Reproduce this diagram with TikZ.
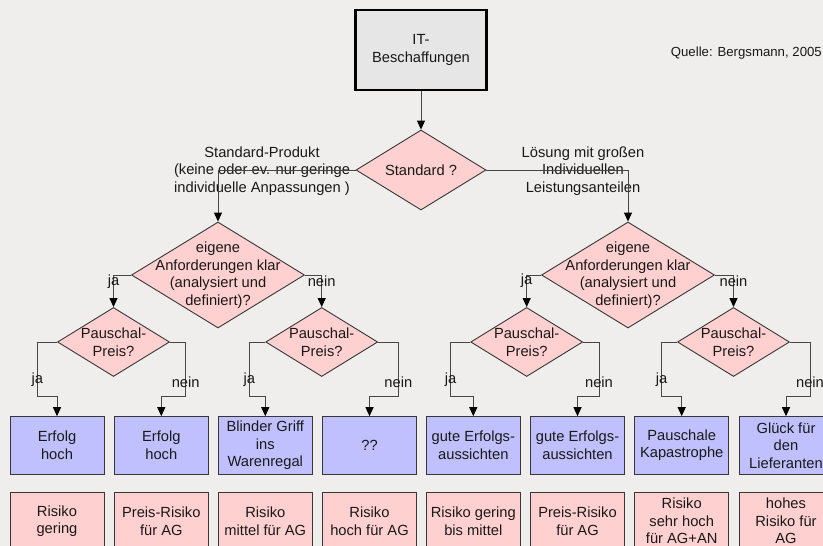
\documentclass[tikz,border=0pt]{standalone}
\usepackage{fontspec}
\setmainfont{Liberation Sans}
\usetikzlibrary{shapes.geometric,arrows.meta}
\definecolor{bg}{RGB}{239,238,236}
\definecolor{pinkf}{RGB}{255,208,208}
\definecolor{bluef}{RGB}{192,192,255}
\definecolor{grayf}{RGB}{230,230,230}
\definecolor{edge}{RGB}{55,55,55}
\definecolor{conn}{RGB}{70,70,70}
\definecolor{txt}{RGB}{25,25,25}
\tikzset{
  every node/.style={text=txt, font=\fontsize{14.7}{17.5}\selectfont, align=center},
  topbox/.style={draw=black, line width=2.2pt, fill=grayf, minimum width=131pt, minimum height=80pt, inner sep=0pt},
  dia/.style={diamond, draw=edge, line width=0.9pt, fill=pinkf, inner sep=0pt},
  bigdia/.style={dia, minimum width=173pt, minimum height=106pt},
  smalldia/.style={dia, minimum width=112pt, minimum height=69pt},
  stddia/.style={dia, minimum width=130pt, minimum height=80pt},
  leafbox/.style={draw=edge, line width=0.9pt, minimum width=94pt, minimum height=57.3pt, inner sep=0pt},
  resbox/.style={leafbox, fill=bluef},
  riskbox/.style={leafbox, fill=pinkf},
  connector/.style={draw=conn, line width=1pt, -{Triangle[length=9pt,width=8pt,color=black]}},
  plainline/.style={draw=conn, line width=1pt},
  lbl/.style={inner sep=0pt},
}
\begin{document}
\begin{tikzpicture}[x=1pt,y=-1pt]
\useasboundingbox[fill=bg] (0,0) rectangle (823,546);

\node[topbox] (top) at (421,50) {IT-\\Beschaffungen};
\node[stddia] (std) at (421,170) {};
\node[lbl] at (std.center) {Standard ?};

\node[lbl] (lstd) at (262,171) {Standard-Produkt\\(keine oder ev. nur geringe\\individuelle Anpassungen )};
\node[lbl] (lind) at (583,171) {Lösung mit großen\\Individuellen\\Leistungsanteilen};

\node[bigdia] (d1) at (218,275) {};
\node[lbl] at (d1.center) {eigene\\Anforderungen klar\\(analysiert und\\definiert)?};
\node[bigdia] (d2) at (628,275) {};
\node[lbl] at (d2.center) {eigene\\Anforderungen klar\\(analysiert und\\definiert)?};

\foreach \n/\x in {p1/113.5,p2/321.7,p3/526.7,p4/733.5}{
  \node[smalldia] (\n) at (\x,342) {};
  \node[lbl] at (\n.center) {Pauschal-\\Preis?};
}

% result boxes
\node[resbox] (b1) at (57,445.3) {Erfolg\\hoch};
\node[resbox] (b2) at (161.3,445.3) {Erfolg\\hoch};
\node[resbox] (b3) at (265.3,445.3) {Blinder Griff\\ins\\Warenregal};
\node[resbox] (b4) at (369.5,445.3) {??};
\node[resbox] (b5) at (473.3,445.3) {gute Erfolgs-\\aussichten};
\node[resbox] (b6) at (577.5,445.3) {gute Erfolgs-\\aussichten};
\node[resbox] (b7) at (681.7,445.3) {Pauschale\\Kapastrophe};
\node[resbox] (b8) at (786,445.3) {Glück für\\den\\Lieferanten};

% risk boxes
\node[riskbox] (r1) at (57,521) {Risiko\\gering};
\node[riskbox] (r2) at (161.3,521) {Preis-Risiko\\für AG};
\node[riskbox] (r3) at (265.3,521) {Risiko\\mittel für AG};
\node[riskbox] (r4) at (369.5,521) {Risiko\\hoch für AG};
\node[riskbox] (r5) at (473.3,521) {Risiko gering\\bis mittel};
\node[riskbox] (r6) at (577.5,521) {Preis-Risiko\\für AG};
\node[riskbox] (r7) at (681.7,521) {Risiko\\sehr hoch\\für AG+AN};
\node[riskbox] (r8) at (786,521) {hohes\\Risiko für\\AG};

\node[lbl, anchor=east, font=\fontsize{13.2}{15}\selectfont] (src) at (822,53) {Quelle: Bergsmann, 2005};

% connectors
\draw[connector] (top.south) -- (std.north);
\draw[connector] (std.west) -| (d1.north);
\draw[connector] (std.east) -| (d2.north);
\draw[connector] (d1.west) -| (p1.north);
\draw[connector] (d1.east) -| (p2.north);
\draw[connector] (d2.west) -| (p3.north);
\draw[connector] (d2.east) -| (p4.north);

\draw[connector] (p1.west) -| (37.3,396.7) -| (b1.north);
\draw[connector] (p1.east) -| (185.7,396.7) -| (b2.north);
\draw[connector] (p2.west) -| (249.3,396.7) -| (b3.north);
\draw[connector] (p2.east) -| (398.3,396.7) -| (b4.north);
\draw[connector] (p3.west) -| (450.7,396.7) -| (b5.north);
\draw[connector] (p3.east) -| (599,396.7) -| (b6.north);
\draw[connector] (p4.west) -| (661.7,396.7) -| (b7.north);
\draw[connector] (p4.east) -| (810,396.7) -| (b8.north);

% labels
\node[lbl] at (113.5,282) {ja};
\node[lbl] at (321.7,281) {nein};
\node[lbl] at (526.7,281) {ja};
\node[lbl] at (733.5,281) {nein};
\foreach \x in {37.3,249.3,450.7,661.7}{\node[lbl] at (\x,380) {ja};}
\foreach \x in {185.7,398.3,599,810}{\node[lbl] at (\x,382) {nein};}
\end{tikzpicture}
\end{document}
